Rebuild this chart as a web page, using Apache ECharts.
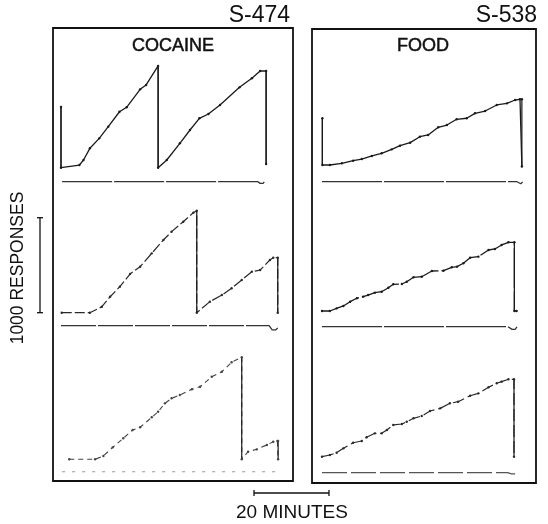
<!DOCTYPE html>
<html>
<head>
<meta charset="utf-8">
<script src="https://cdn.jsdelivr.net/npm/echarts@6/dist/echarts.min.js"></script>
<style>
html,body{margin:0;padding:0;background:#fff;}
#chart{width:548px;height:524px;}
</style>
</head>
<body>
<div id="chart"></div>
<script>
// ---- data: [minutes, cumulative responses]; pen resets to 0 ----
const cocaineRec1 = [[0,639],[0,0],[4.9,28],[6.0,81],[7.7,204],[10.2,309],[12.6,432],[15.6,589],[17.5,636],[21.1,825],[22.7,871],[25.9,1071],[25.9,0],[28.2,81],[31.7,257],[34.4,397],[36.9,520],[39.3,565],[42.4,660],[47.6,846],[50.9,941],[53.1,1018],[54.7,1018],[54.7,39]];
const cocaineRec2 = [[0.2,0],[7.7,0],[10.9,63],[13.1,168],[15.7,274],[18.4,407],[21.1,484],[24.2,625],[27.3,765],[29.5,853],[32.6,958],[35.3,1053],[36.2,1074],[36.2,0],[39.7,116],[42.9,186],[45.5,257],[48.2,344],[50.9,432],[53.1,449],[55.7,555],[56.6,579],[57.8,579],[57.8,0]];
const cocaineRec3 = [[2.2,0],[9.1,0],[11.3,35],[13.8,126],[16.6,221],[19.1,308],[21.1,337],[24.2,442],[25.9,501],[27.7,589],[29.5,642],[31.7,677],[34.9,737],[37.1,764],[40.2,869],[42.9,922],[45.5,1021],[48.2,1074],[48.2,0],[49.9,80],[52.2,105],[54.9,151],[56.6,185],[57.7,193],[57.9,193],[57.9,0]];
const foodRec1 = [[0.1,492],[0.1,0],[2.1,0],[5.3,18],[8.3,45],[10.6,63],[13.3,95],[15.9,123],[18.6,165],[20.8,203],[23.5,235],[26.1,298],[28.3,316],[31.0,397],[33.3,421],[35.9,481],[38.6,492],[40.8,544],[43.5,568],[46.6,632],[49.3,649],[51.5,684],[52.8,692],[53.3,692],[53.3,-15]];
const foodRec2 = [[0,0],[2.1,0],[3.9,28],[5.7,53],[7.5,98],[9.3,134],[11.0,151],[12.3,168],[14.1,193],[15.9,203],[17.7,245],[19.0,281],[21.3,284],[22.6,308],[24.4,355],[26.6,361],[29.3,421],[32.4,424],[34.6,460],[36.0,467],[37.7,503],[39.5,561],[41.7,572],[44.4,642],[46.1,653],[47.9,695],[49.7,723],[51.3,723],[51.3,0],[51.9,0]];
const foodRec3 = [[0,0],[2.1,18],[3.9,42],[5.7,88],[8.3,147],[10.6,165],[11.9,204],[14.1,246],[15.9,246],[17.3,281],[19.0,334],[21.3,344],[22.6,368],[24.4,404],[26.6,428],[28.8,481],[31.5,509],[34.1,562],[36.3,579],[39.5,642],[41.7,667],[44.4,731],[46.6,773],[47.9,790],[49.7,815],[51.2,815],[51.2,0]];
// event pen lines (offset below each record)
const cocaineEvt1 = [[0.3,-147],[52.5,-147],[53.1,-165],[53.9,-165],[54.2,-150]];
const cocaineEvt2 = [[0,-137],[55.5,-137],[56.3,-180],[57.3,-180],[57.8,-160]];
const cocaineEvt3 = [[0.3,-131],[57.9,-131]];
const foodEvt1 = [[0,-176],[52.0,-176],[52.4,-197],[53.0,-197],[53.5,-180]];
const foodEvt2 = [[0,-165],[49.6,-165],[50.7,-193],[51.5,-193],[52.0,-168]];
const foodEvt3 = [[0,-168],[49.5,-168],[50.5,-181],[51.5,-181]];
const panelTitles = ['COCAINE','FOOD'];
const subjectLabels = ['S-474','S-538'];
const scaleMinutes = 20;
const scaleResponses = 1000;

// ---- layout ----
const PX_PER_MIN = 3.75, PX_PER_RESP = 0.095;
const XMAX = 58, YMAX = 1200, YMIN = -300;
const origins = [[61,167.7],[61,312.7],[61,459.3],[322,165],[322,311],[322,456.7]];
const records = [cocaineRec1,cocaineRec2,cocaineRec3,foodRec1,foodRec2,foodRec3];
const events = [cocaineEvt1,cocaineEvt2,cocaineEvt3,foodEvt1,foodEvt2,foodEvt3];
const recStyles = [
  {color:'#1a1a1a', type:'solid', width:1.3},
  {color:'#2a2a2a', type:[10,3], width:1.2},
  {color:'#444', type:[5,4], width:1.1},
  {color:'#1a1a1a', type:'solid', width:1.3},
  {color:'#1a1a1a', type:[40,3], width:1.3},
  {color:'#2a2a2a', type:[12,4], width:1.2}
];
const evtStyles = [
  {color:'#333', type:[50,2], width:1.3},
  {color:'#333', type:[35,2], width:1.3},
  {color:'#999', type:[3,7], width:1.1},
  {color:'#333', type:[60,2], width:1.3},
  {color:'#333', type:[60,2], width:1.3},
  {color:'#555', type:[25,4], width:1.2}
];

// vertical pen resets (consecutive points at the same time) drawn solid
function resets(rec){
  const out = [];
  for (let k=1;k<rec.length;k++){
    if (rec[k][0]===rec[k-1][0]) { out.push(rec[k-1], rec[k], [null,null]); }
  }
  return out;
}

const grid = [], xAxis = [], yAxis = [], series = [];
origins.forEach((o,i)=>{
  grid.push({left:o[0], top:o[1]-YMAX*PX_PER_RESP, width:XMAX*PX_PER_MIN, height:(YMAX-YMIN)*PX_PER_RESP});
  xAxis.push({type:'value', gridIndex:i, min:0, max:XMAX, show:false});
  yAxis.push({type:'value', gridIndex:i, min:YMIN, max:YMAX, show:false});
  series.push({type:'line', xAxisIndex:i, yAxisIndex:i, data:records[i], symbol:'circle', symbolSize:2.4, showSymbol:true,
    itemStyle:{color:recStyles[i].color}, lineStyle:recStyles[i], silent:true, animation:false});
  series.push({type:'line', xAxisIndex:i, yAxisIndex:i, data:resets(records[i]), symbol:'none', connectNulls:false,
    lineStyle:{color:'#1a1a1a', width:1.2, type:'solid'}, silent:true, animation:false});
  series.push({type:'line', xAxisIndex:i, yAxisIndex:i, data:events[i], symbol:'none',
    lineStyle:evtStyles[i], silent:true, animation:false});
});

const chart = echarts.init(document.getElementById('chart'), null, {renderer:'canvas'});
chart.setOption({backgroundColor:'#fff', animation:false, grid, xAxis, yAxis, series});

// scale bars from the axes' own scales
const b0 = chart.convertToPixel({gridIndex:1}, [0,0]);
const b1 = chart.convertToPixel({gridIndex:1}, [0,scaleResponses]);
const m0 = chart.convertToPixel({gridIndex:2}, [0,0]);
const m1 = chart.convertToPixel({gridIndex:2}, [scaleMinutes,0]);
const barLen = m1[0]-m0[0];
const mx0 = 291.5 - barLen/2, mx1 = 291.5 + barLen/2, my = 493;
const vx = 40;
const ink = '#111';
const font = '"Liberation Sans", Arial, sans-serif';
chart.setOption({graphic:[
  {type:'rect', shape:{x:53,y:28,width:240,height:453}, style:{fill:'none', stroke:ink, lineWidth:1.8}},
  {type:'rect', shape:{x:312,y:29,width:224,height:454}, style:{fill:'none', stroke:ink, lineWidth:1.8}},
  {type:'text', x:290, y:16, style:{text:subjectLabels[0], font:'23px '+font, fill:ink, textAlign:'right', textVerticalAlign:'middle'}},
  {type:'text', x:537, y:16, style:{text:subjectLabels[1], font:'23px '+font, fill:ink, textAlign:'right', textVerticalAlign:'middle'}},
  {type:'text', x:173, y:46, style:{text:panelTitles[0], font:'18px '+font, fill:ink, stroke:ink, lineWidth:0.5, textAlign:'center', textVerticalAlign:'middle'}},
  {type:'text', x:423, y:46, style:{text:panelTitles[1], font:'18px '+font, fill:ink, stroke:ink, lineWidth:0.5, textAlign:'center', textVerticalAlign:'middle'}},
  {type:'line', shape:{x1:vx,y1:b0[1],x2:vx,y2:b1[1]}, style:{stroke:ink, lineWidth:1.3}},
  {type:'line', shape:{x1:vx-3,y1:b0[1],x2:vx+3,y2:b0[1]}, style:{stroke:ink, lineWidth:1.3}},
  {type:'line', shape:{x1:vx-3,y1:b1[1],x2:vx+3,y2:b1[1]}, style:{stroke:ink, lineWidth:1.3}},
  {type:'text', x:18, y:268, rotation:Math.PI/2, style:{text:scaleResponses+' RESPONSES', font:'17.5px '+font, fill:ink, textAlign:'center', textVerticalAlign:'middle'}},
  {type:'line', shape:{x1:mx0,y1:my,x2:mx1,y2:my}, style:{stroke:ink, lineWidth:1.3}},
  {type:'line', shape:{x1:mx0,y1:my-3,x2:mx0,y2:my+3}, style:{stroke:ink, lineWidth:1.3}},
  {type:'line', shape:{x1:mx1,y1:my-3,x2:mx1,y2:my+3}, style:{stroke:ink, lineWidth:1.3}},
  {type:'text', x:292, y:513, style:{text:scaleMinutes+' MINUTES', font:'19px '+font, fill:ink, textAlign:'center', textVerticalAlign:'middle'}}
]});
</script>
</body>
</html>
